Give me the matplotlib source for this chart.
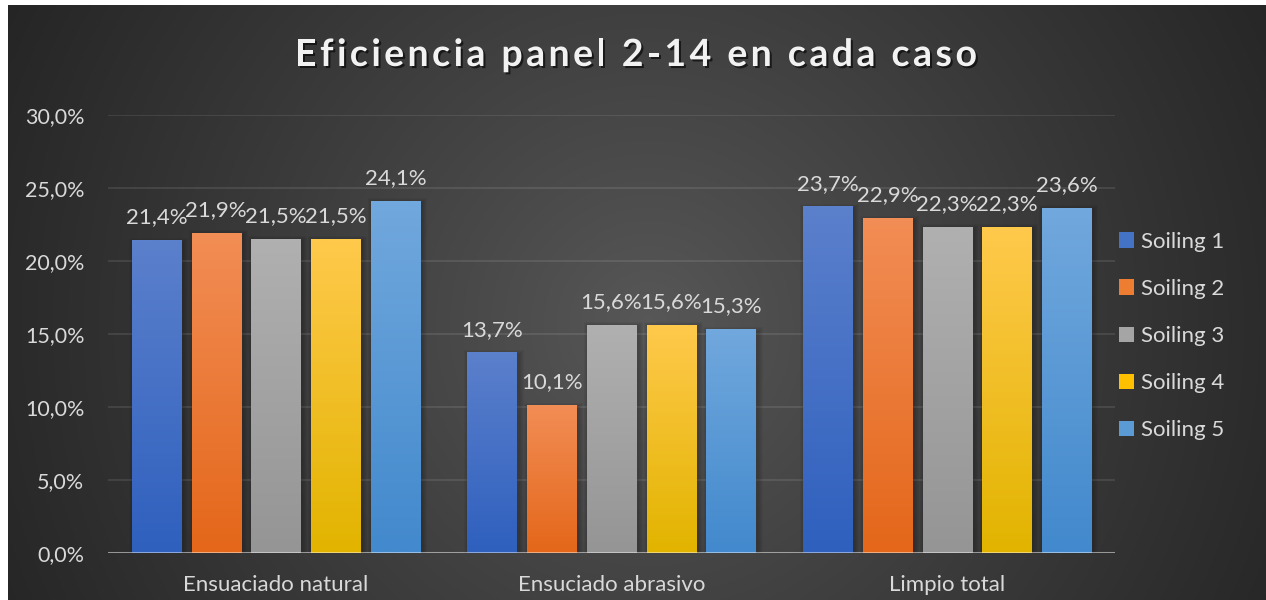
import numpy as np
import matplotlib
matplotlib.use('Agg')
import matplotlib.pyplot as plt
from matplotlib import patheffects
from matplotlib.patches import Rectangle
from matplotlib.colors import to_rgb
from matplotlib.ticker import FuncFormatter

# datos
categories = ['Ensuaciado natural', 'Ensuciado abrasivo', 'Limpio total']
series = ['Soiling 1', 'Soiling 2', 'Soiling 3', 'Soiling 4', 'Soiling 5']
soiling1 = [21.4, 13.7, 23.7]
soiling2 = [21.9, 10.1, 22.9]
soiling3 = [21.5, 15.6, 22.3]
soiling4 = [21.5, 15.6, 22.3]
soiling5 = [24.1, 15.3, 23.6]
yticks = [0, 5, 10, 15, 20, 25, 30]
title = 'Eficiencia panel 2-14 en cada caso'

# degradado de cada serie (arriba, abajo)
top_colors = ['#5B80CC', '#F28D55', '#B0B0B0', '#FFC94B', '#71A8DD']
bot_colors = ['#2F60BE', '#E4671A', '#959595', '#E2B400', '#4289CD']
mid_colors = ['#4472C4', '#ED7D31', '#A5A5A5', '#FFC000', '#5B9BD5']

plt.rcParams['font.family'] = ['Lato', 'DejaVu Sans']
txt = '#D9D9D9'
W, H = 1266, 600

fig = plt.figure(figsize=(W / 100, H / 100), dpi=100)
fig.patch.set_facecolor('white')

# fondo con degradado radial
bg = fig.add_axes([8 / W, 0, 1 - 8 / W, 1 - 5 / H], zorder=0)
hh, ww = 595, 1258
yy, xx = np.mgrid[0:hh, 0:ww]
d = np.hypot(xx - 640, yy - 320)
t = np.clip(d / 720, 0, 1) ** 0.9
c0, c1 = 0x58 / 255, 0x25 / 255
g = c0 + (c1 - c0) * t
bg.imshow(np.dstack([g, g, g]), aspect='auto', extent=[0, 1, 0, 1])
bg.axis('off')

ax = fig.add_axes([108 / W, 47 / H, 1007 / W, 438 / H], zorder=1)
ax.set_facecolor('none')

x = np.arange(len(categories))
pitch, width = 0.178, 0.146
data = [soiling1, soiling2, soiling3, soiling4, soiling5]
px_x = 3 / 1007   # unidades de datos por pixel
px_y = 30 / 438

grad = np.linspace(0, 1, 64)[:, None, None]
for i, vals in enumerate(data):
    pos = x + (i - 2) * pitch
    bars = ax.bar(pos, vals, width, color=mid_colors[i], zorder=3, label=series[i])
    top = np.array(to_rgb(top_colors[i]))
    bot = np.array(to_rgb(bot_colors[i]))
    img = (1 - grad) * top + grad * bot
    for b, v in zip(bars, vals):
        x0, bw, bh = b.get_x(), b.get_width(), b.get_height()
        # sombra suave
        for k in range(1, 6):
            ax.add_patch(Rectangle((x0 + 2 * px_x - k * px_x, 0), bw + 2 * k * px_x,
                                   bh - 2 * px_y + k * px_y, color='black', alpha=0.04,
                                   lw=0, zorder=2.5))
        ax.imshow(img, extent=[x0, x0 + bw, 0, bh], aspect='auto', zorder=3.2,
                  interpolation='bilinear')
        ax.annotate(f'{v:.1f}%'.replace('.', ','), (x0 + bw / 2, v), xytext=(0, 9.5),
                    textcoords='offset points', ha='center', va='bottom',
                    color=txt, fontsize=16, zorder=6)

ax.set_xlim(-0.5, 2.5)
ax.set_ylim(0, 30)
ax.set_yticks(yticks)
ax.yaxis.set_major_formatter(FuncFormatter(lambda v, p: f'{v:.1f}%'.replace('.', ',')))
ax.set_xticks(x)
ax.set_xticklabels(categories)
ax.tick_params(axis='y', length=0, pad=17, labelsize=15.5, labelcolor=txt)
ax.tick_params(axis='x', length=0, pad=16, labelsize=16, labelcolor=txt)
for s in ax.spines.values():
    s.set_visible(False)
ax.yaxis.grid(True, color='white', alpha=0.1, lw=1.3)
ax.set_axisbelow(True)
ax.axhline(0, color='white', alpha=0.45, lw=2.2, zorder=5)

leg = ax.legend(loc='center left', bbox_to_anchor=(1119 / W, 0.44),
                bbox_transform=fig.transFigure, frameon=False, fontsize=16,
                labelcolor=txt, handlelength=0.68, handleheight=0.68,
                handletextpad=0.3, labelspacing=1.22, borderpad=0, borderaxespad=0)

# titulo con espaciado entre letras
renderer = fig.canvas.get_renderer()


def text_w(s):
    tt = fig.text(0, 0, s, fontsize=27, fontweight='bold')
    wpx = tt.get_window_extent(renderer).width
    tt.remove()
    return wpx


bar_w = text_w('|')
lefts = [text_w(title[:i] + '|') - bar_w for i in range(len(title))]
total = text_w(title)
target = 682
extra = (target - total) / (len(title) - 1)
tx0 = 636 - target / 2
for i, ch in enumerate(title):
    fig.text((tx0 + lefts[i] + i * extra) / W, 1 - 66 / H, ch, fontsize=27,
             fontweight='bold', color='#F2F2F2', ha='left', va='baseline',
             path_effects=[patheffects.withSimplePatchShadow(offset=(1.5, -1.5),
                                                             shadow_rgbFace='black',
                                                             alpha=0.6)])

fig.savefig('out.png', dpi=100, facecolor=fig.get_facecolor())
